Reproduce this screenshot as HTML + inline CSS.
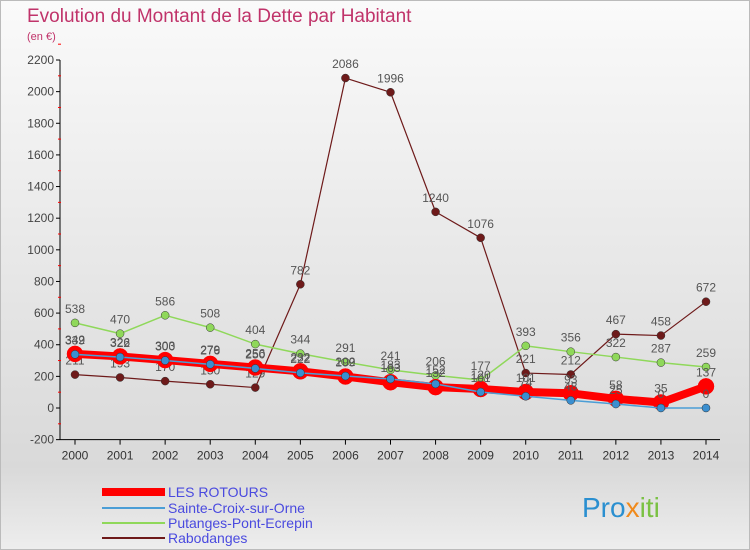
<!DOCTYPE html>
<html><head><meta charset="utf-8"><style>
body{margin:0;width:750px;height:550px;overflow:hidden;font-family:"Liberation Sans",sans-serif;}
#wrap{position:relative;width:748px;height:548px;border:1px solid #bbb;background:linear-gradient(#fafafa,#d9d9d9 85%,#ededed);}
</style></head><body>
<div id="wrap">
<svg id="chart" width="750" height="550" style="position:absolute;left:-1px;top:-1px">
<text x="27" y="22" font-size="19" fill="#c0336a">Evolution du Montant de la Dette par Habitant</text>
<text x="27" y="40" font-size="11" fill="#c0336a">(en €)</text>
<g id="axes"></g><g id="series"></g>
<g font-size="14" fill="#4a4adf">
<line x1="102" y1="492" x2="165" y2="492" stroke="#f00" stroke-width="8"/><text x="168" y="497">LES ROTOURS</text>
<line x1="102" y1="508" x2="165" y2="508" stroke="#4b9ed6" stroke-width="2"/><text x="168" y="513">Sainte-Croix-sur-Orne</text>
<line x1="102" y1="523" x2="165" y2="523" stroke="#8fd85a" stroke-width="2"/><text x="168" y="528">Putanges-Pont-Ecrepin</text>
<line x1="102" y1="538" x2="165" y2="538" stroke="#6e1a1a" stroke-width="2"/><text x="168" y="543">Rabodanges</text>
</g>
<text x="582" y="517" font-size="28" fill="#2a8fd0">Pro<tspan fill="#f08a1c">x</tspan><tspan fill="#7ac143">iti</tspan></text>
</svg></div>
<script>
const years=[2000,2001,2002,2003,2004,2005,2006,2007,2008,2009,2010,2011,2012,2013,2014];
const yTicks=[-200,0,200,400,600,800,1000,1200,1400,1600,1800,2000,2200];
const rotours=[342,326,303,279,256,232,199,163,132,120,101,93,58,35,137];
const sainteCroix=[339,322,300,276,250,222,202,183,152,101,74,48,25,0,0];
const putanges=[538,470,586,508,404,344,291,241,206,177,393,356,322,287,259];
const rabodanges=[211,193,170,150,129,782,2086,1996,1240,1076,221,212,467,458,672];
const NS="http://www.w3.org/2000/svg";
const xS=i=>75+i*(706-75)/14;
const yS=v=>408-v*(348/2200);
function mk(t,a,p){const e=document.createElementNS(NS,t);for(const k in a)e.setAttribute(k,a[k]);p.appendChild(e);return e;}
const ax=document.getElementById('axes'),se=document.getElementById('series');
mk('line',{x1:60,y1:yS(2200),x2:60,y2:yS(-200),stroke:'#000'},ax);
mk('line',{x1:60,y1:yS(-200),x2:720,y2:yS(-200),stroke:'#000'},ax);
yTicks.forEach(v=>{mk('line',{x1:56,y1:yS(v),x2:60,y2:yS(v),stroke:'#000'},ax);
 mk('line',{x1:58,y1:yS(v+100),x2:61,y2:yS(v+100),stroke:'#f00'},ax);
 const t=mk('text',{x:54,y:yS(v)+4,'font-size':12,'text-anchor':'end',fill:'#444'},ax);t.textContent=v;
 
 });
years.forEach((y,i)=>{mk('line',{x1:xS(i),y1:yS(-200),x2:xS(i),y2:yS(-200)+5,stroke:'#000'},ax);
 const t=mk('text',{x:xS(i),y:yS(-200)+20,'font-size':12,'text-anchor':'middle',fill:'#333'},ax);t.textContent=y;
 
 });
function draw(vals,name,color,w,r,fill){
 const g=mk('g',{},se);
 
 
 mk('polyline',{points:vals.map((v,i)=>xS(i)+','+yS(v)).join(' '),fill:'none',stroke:color,'stroke-width':w,'stroke-linejoin':'round'},g);
 vals.forEach((v,i)=>{const c=mk('circle',{cx:xS(i),cy:yS(v),r:r,fill:fill,stroke:color==='#f00'?'#f00':'#333','stroke-width':0.5},g);
  
  
  const t=mk('text',{x:xS(i),y:yS(v)-10,'font-size':12,'text-anchor':'middle',fill:'#555'},g);t.textContent=v;
  
  });
}
draw(rabodanges,'series-rabodanges','#6e1a1a',1.2,4,'#6e1a1a');
draw(putanges,'series-putanges','#8fd85a',1.5,4,'#8fd85a');
draw(rotours,'series-les-rotours','#f00',8,8,'#f00');
draw(sainteCroix,'series-sainte-croix','#4b9ed6',1.5,4,'#3a8fd0');
</script></body></html>
